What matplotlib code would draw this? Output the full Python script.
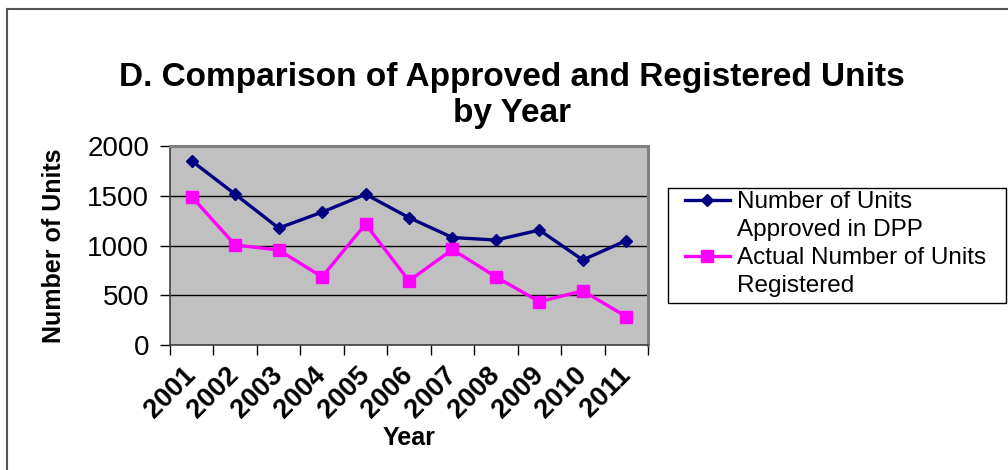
import numpy as np
import matplotlib
matplotlib.use("Agg")
import matplotlib.pyplot as plt
from matplotlib.lines import Line2D
from matplotlib.patches import Rectangle

plt.rcParams['font.family'] = ['Liberation Sans', 'DejaVu Sans']

years = ['2001', '2002', '2003', '2004', '2005', '2006', '2007', '2008', '2009', '2010', '2011']
approved = [1850, 1515, 1175, 1335, 1515, 1280, 1080, 1055, 1155, 855, 1050]
registered = [1490, 1005, 955, 685, 1215, 645, 960, 685, 435, 545, 285]
# legend text wraps onto two lines per series, as in the original
legend_lines = [['Number of Units', 'Approved in DPP'], ['Actual Number of Units', 'Registered']]

W, H = 1008, 470
fig = plt.figure(figsize=(W / 100, H / 100), dpi=100)
# plot area in pixels: x 170..648, y 146..345
ax = fig.add_axes([170 / W, 125 / H, 478 / W, 199 / H])
ax.set_facecolor('#C0C0C0')

x = np.arange(len(years))
l1, = ax.plot(x, approved, color='#000080', marker='D', ms=6.6, lw=2.4)
l2, = ax.plot(x, registered, color='#FF00FF', marker='s', ms=8.6, lw=2.4)

ax.set_xlim(-0.5, len(years) - 0.5)
ax.set_ylim(0, 2000)
ax.set_yticks(np.arange(0, 2001, 500))
ax.yaxis.grid(True, color='black', lw=1)
ax.set_axisbelow(True)

ax.set_xticks(x)
ax.set_xticklabels(years, rotation=45, ha='right', va='center', rotation_mode='anchor',
                   fontweight='bold')
ax.set_xticks(np.arange(-0.5, len(years)), minor=True)
ax.tick_params(axis='x', which='major', length=0, pad=19, labelsize=19.5)
ax.tick_params(axis='x', which='minor', length=7, width=1, color='black')
ax.tick_params(axis='y', length=7, width=1, labelsize=20, pad=8)

for side in ['top', 'right']:
    ax.spines[side].set_color('#808080')
    ax.spines[side].set_linewidth(2.2)
for side in ['left', 'bottom']:
    ax.spines[side].set_color('#404040')
    ax.spines[side].set_linewidth(1.2)

ax.set_xlabel('Year', fontsize=18, weight='bold')
ax.xaxis.label.set_va('center')
ax.xaxis.set_label_coords(0.5, (345 - 438) / 199)
ax.set_ylabel('Number of Units', fontsize=18, weight='bold')
ax.yaxis.label.set_va('center')
ax.yaxis.set_label_coords((54 - 170) / 478, 0.5)

fig.text(512 / W, 1 - 62 / H, 'D. Comparison of Approved and Registered Units\nby Year',
         ha='center', va='top', fontsize=24, weight='bold', linespacing=1.2)

# legend: box drawn separately so the padding can differ left/right vs top/bottom
ax.add_patch(Rectangle((668 / W, 1 - 303 / H), 338 / W, 115 / H, transform=fig.transFigure,
                       facecolor='white', edgecolor='black', lw=1, zorder=4, clip_on=False))
blank = Line2D([], [], color='none')
handles = [l1, blank, l2, blank]
labels = legend_lines[0] + legend_lines[1]
leg = ax.legend(handles, labels, loc='upper left', bbox_to_anchor=(685 / W, 1 - 191 / H),
                bbox_transform=fig.transFigure, frameon=False, fontsize=17.5,
                handlelength=1.85, handletextpad=0.3, borderpad=0, labelspacing=0.25,
                borderaxespad=0)
leg.set_zorder(5)

# outer chart frame (only top and left edges visible in the crop)
fig.add_artist(Line2D([7 / W, 1], [1 - 9 / H, 1 - 9 / H], color='#555555', lw=1.5))
fig.add_artist(Line2D([7 / W, 7 / W], [0, 1 - 9 / H], color='#555555', lw=1.5))

fig.savefig('out.png', dpi=100)
